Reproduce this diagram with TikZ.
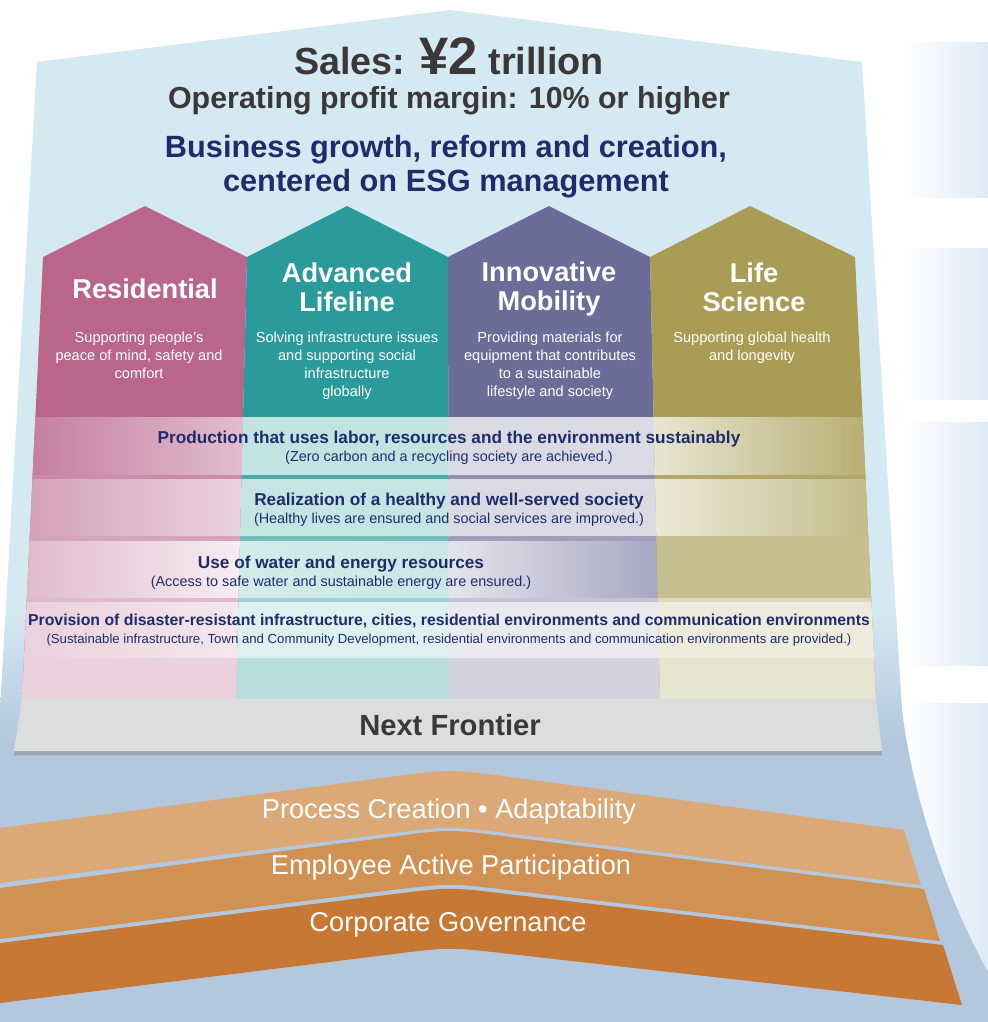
\documentclass[tikz,border=0pt]{standalone}
\usepackage{fontspec}
\setmainfont{Liberation Sans}
\usetikzlibrary{calc, shadows}

\definecolor{skyBlue}{HTML}{D5E9F2}
\definecolor{steelBlue}{HTML}{B3C7DD}
\definecolor{panelBlue}{HTML}{DCEAF7}
\definecolor{resColor}{HTML}{B9658C}
\definecolor{lifeColor}{HTML}{2A9B9A}
\definecolor{mobColor}{HTML}{6B6C98}
\definecolor{sciColor}{HTML}{A99D55}
\definecolor{inkGray}{HTML}{3B3838}
\definecolor{inkNavy}{HTML}{1F2C6A}
\definecolor{frontierGray}{HTML}{DCDEDD}
\definecolor{baseLight}{HTML}{DBA877}
\definecolor{baseMid}{HTML}{D19152}
\definecolor{baseDark}{HTML}{C77834}

\begin{document}
\begin{tikzpicture}[
		x=0.02cm, y=-0.02cm,
		% Styles (multi-line nodes sit on the baseline of their last line)
		pillarTitle/.style={anchor=base, text=white, font=\fontsize{15.5}{16.4}\selectfont\bfseries, align=center},
		pillarText/.style={anchor=base, text=white, font=\fontsize{8.3}{10.2}\selectfont, align=center},
		goalTitle/.style={anchor=base, text=inkNavy, font=\fontsize{9.8}{11}\selectfont\bfseries},
		goalNote/.style={anchor=base, text=inkNavy, font=\fontsize{8.2}{10}\selectfont},
		baseLabel/.style={anchor=base, text=white, font=\fontsize{15.5}{17}\selectfont},
		sidePanel/.style={left color=white, right color=panelBlue}
		]
		
		\useasboundingbox (0,0) rectangle (988,1022);
		\fill[white] (0,0) rectangle (988,1022);
		
		% =========================================================
		% 1. BACKDROP (side panels and the big house)
		% =========================================================
		\shade[sidePanel] (905,42) rectangle (988,197);
		\shade[sidePanel] (905,248) rectangle (988,399);
		\shade[sidePanel] (905,422) rectangle (988,665);
		\shade[sidePanel] (905,703) rectangle (988,1022);
		
		\begin{scope}
			\clip (0,710) -- (37,62) -- (450,10) -- (862,62) -- (902,710)
			.. controls (913,800) and (948,900) .. (988,972) -- (988,1022) -- (0,1022) -- cycle;
			\fill[skyBlue] (0,0) rectangle (988,610);
			\shade[top color=skyBlue, bottom color=steelBlue] (0,610) rectangle (988,745);
			\fill[steelBlue] (0,745) rectangle (988,1022);
		\end{scope}
		
		% =========================================================
		% 2. TARGETS
		% =========================================================
		\node[anchor=base, text=inkGray, font=\bfseries] (Sales) at (449,74)
		{\fontsize{21.5}{24}\selectfont Sales: \fontsize{30}{32}\selectfont ¥2\fontsize{21.5}{24}\selectfont\ trillion};
		\node[anchor=base, text=inkGray, font=\fontsize{17.3}{20}\selectfont\bfseries] (Margin) at (449,108)
		{Operating profit margin: 10\% or higher};
		\node[anchor=base, text=inkNavy, font=\fontsize{17.5}{19.3}\selectfont\bfseries, align=center] (Mission) at (446,191)
		{Business growth, reform and creation,\\centered on ESG management};
		
		% =========================================================
		% 3. FOUR PILLARS
		% =========================================================
		\coordinate (B0top) at (43,257);  \coordinate (B0bot) at (22,699);
		\coordinate (B1top) at (247,257); \coordinate (B1bot) at (236,699);
		\coordinate (B2top) at (448,257); \coordinate (B2bot) at (449,699);
		\coordinate (B3top) at (650,257); \coordinate (B3bot) at (660,699);
		\coordinate (B4top) at (855,257); \coordinate (B4bot) at (876,699);
		
		\fill[resColor] (B0bot) -- (B0top) -- (145,206) -- (B1top) -- (B1bot) -- cycle;
		\fill[lifeColor] (B1bot) -- (B1top) -- (347,206) -- (B2top) -- (B2bot) -- cycle;
		\fill[mobColor] (B2bot) -- (B2top) -- (549,206) -- (B3top) -- (B3bot) -- cycle;
		\fill[sciColor] (B3bot) -- (B3top) -- (750,206) -- (B4top) -- (B4bot) -- cycle;
		
		% washed-out rows in the lower half of each pillar
		\begin{scope}
			\clip ($(B0top)!0.362!(B0bot)$) -- ($(B1top)!0.362!(B1bot)$) -- (B1bot) -- (B0bot) -- cycle;
			\foreach \ya/\yb/\cl/\cr in {417/475/resColor!85!white/resColor!42!white,
				475/479/resColor!75!white/resColor!75!white,
				479/536/resColor!62!white/resColor!28!white,
				536/541/resColor!60!white/resColor!60!white,
				541/598/resColor!45!white/resColor!10!white,
				598/602/resColor!45!white/resColor!45!white,
				602/658/resColor!30!white/resColor!15!white,
				658/700/resColor!30!white/resColor!30!white}
			\shade[left color=\cl, right color=\cr] (22,\ya) rectangle (247,\yb);
		\end{scope}
		\begin{scope}
			\clip ($(B1top)!0.362!(B1bot)$) -- ($(B2top)!0.362!(B2bot)$) -- (B2bot) -- (B1bot) -- cycle;
			\foreach \ya/\yb/\cl/\cr in {417/475/lifeColor!28!white/lifeColor!28!white,
				475/479/lifeColor!85!white/lifeColor!85!white,
				479/536/lifeColor!27!white/lifeColor!27!white,
				536/541/lifeColor!65!white/lifeColor!65!white,
				541/598/lifeColor!20!white/lifeColor!25!white,
				598/602/lifeColor!45!white/lifeColor!45!white,
				602/658/lifeColor!15!white/lifeColor!15!white,
				658/700/lifeColor!33!white/lifeColor!33!white}
			\shade[left color=\cl, right color=\cr] (236,\ya) rectangle (449,\yb);
		\end{scope}
		\begin{scope}
			\clip ($(B2top)!0.362!(B2bot)$) -- ($(B3top)!0.362!(B3bot)$) -- (B3bot) -- (B2bot) -- cycle;
			\foreach \ya/\yb/\cl/\cr in {417/475/mobColor!25!white/mobColor!25!white,
				475/479/mobColor!75!white/mobColor!75!white,
				479/536/mobColor!25!white/mobColor!25!white,
				536/541/mobColor!65!white/mobColor!65!white,
				541/598/mobColor!18!white/mobColor!60!white,
				598/602/mobColor!40!white/mobColor!40!white,
				602/658/mobColor!15!white/mobColor!15!white,
				658/700/mobColor!30!white/mobColor!30!white}
			\shade[left color=\cl, right color=\cr] (448,\ya) rectangle (660,\yb);
		\end{scope}
		\begin{scope}
			\clip ($(B3top)!0.362!(B3bot)$) -- ($(B4top)!0.362!(B4bot)$) -- (B4bot) -- (B3bot) -- cycle;
			\foreach \ya/\yb/\cl/\cr in {417/475/sciColor!25!white/sciColor!85!white,
				475/479/sciColor!90!white/sciColor!90!white,
				479/536/sciColor!22!white/sciColor!70!white,
				536/541/sciColor!65!white/sciColor!65!white,
				541/598/sciColor!65!white/sciColor!65!white,
				598/602/sciColor!40!white/sciColor!40!white,
				602/658/sciColor!20!white/sciColor!20!white,
				658/700/sciColor!28!white/sciColor!28!white}
			\shade[left color=\cl, right color=\cr] (650,\ya) rectangle (876,\yb);
		\end{scope}
		
		% pillar headings and descriptions
		\node[pillarTitle] (ResTitle) at (145,298) {Residential};
		\node[pillarTitle] (LifeTitle) at (347,311) {Advanced\\Lifeline};
		\node[pillarTitle] (MobTitle) at (549,310) {Innovative\\Mobility};
		\node[pillarTitle] (SciTitle) at (754,311) {Life\\Science};
		
		\node[pillarText] (ResText) at (139,378) {Supporting people’s\\peace of mind, safety and\\comfort};
		\node[pillarText] (LifeText) at (347,396) {Solving infrastructure issues\\and supporting social\\infrastructure\\globally};
		\node[pillarText] (MobText) at (550,396) {Providing materials for\\equipment that contributes\\to a sustainable\\lifestyle and society};
		\node[pillarText] (SciText) at (752,360) {Supporting global health\\and longevity};
		
		% =========================================================
		% 4. SOCIAL GOALS ACROSS THE PILLARS
		% =========================================================
		\node[goalTitle] (Goal1) at (449,443) {Production that uses labor, resources and the environment sustainably};
		\node[goalNote] (Note1) at (449,461) {(Zero carbon and a recycling society are achieved.)};
		\node[goalTitle] (Goal2) at (449,505) {Realization of a healthy and well-served society};
		\node[goalNote] (Note2) at (449,523) {(Healthy lives are ensured and social services are improved.)};
		\node[goalTitle] (Goal3) at (341,568) {Use of water and energy resources};
		\node[goalNote] (Note3) at (341,586) {(Access to safe water and sustainable energy are ensured.)};
		\node[goalTitle, font=\fontsize{9}{11}\selectfont\bfseries] (Goal4) at (449,625)
		{Provision of disaster-resistant infrastructure, cities, residential environments and communication environments};
		\node[goalNote, font=\fontsize{7.5}{9}\selectfont] (Note4) at (449,643)
		{(Sustainable infrastructure, Town and Community Development, residential environments and communication environments are provided.)};
		
		% =========================================================
		% 5. NEXT FRONTIER SLAB
		% =========================================================
		\fill[frontierGray, drop shadow={shadow xshift=0pt, shadow yshift=-2.5pt, opacity=0.45}]
		(22,699) -- (876,699) -- (882,751) -- (14,751) -- cycle;
		\node[anchor=base, text=inkGray, font=\fontsize{16.6}{18}\selectfont\bfseries] (Frontier) at (450,735) {Next Frontier};
		
		% =========================================================
		% 6. FOUNDATION LAYERS (chevrons with a rounded ridge)
		% =========================================================
		\fill[baseLight] (0,828) -- (390,777) .. controls (450,769) .. (510,777) -- (904,830)
		-- (921,885) -- (510,833.5) .. controls (450,826) .. (390,833.5) -- (0,883) -- cycle;
		\fill[baseMid] (0,888) -- (390,837) .. controls (450,829) .. (510,837) -- (924,889)
		-- (940,941) -- (510,890.3) .. controls (450,883) .. (390,890.3) -- (0,939) -- cycle;
		\fill[baseDark] (0,943) -- (390,894.5) .. controls (450,887) .. (510,894.3) -- (943,945)
		-- (962,1005) -- (510,954) .. controls (450,947) .. (390,954.5) -- (0,1003) -- cycle;
		
		\node[baseLabel] (Process) at (449,818) {Process Creation • Adaptability};
		\node[baseLabel] (Employee) at (451,874) {Employee Active Participation};
		\node[baseLabel] (Governance) at (448,931) {Corporate Governance};
		
	\end{tikzpicture}
\end{document}
